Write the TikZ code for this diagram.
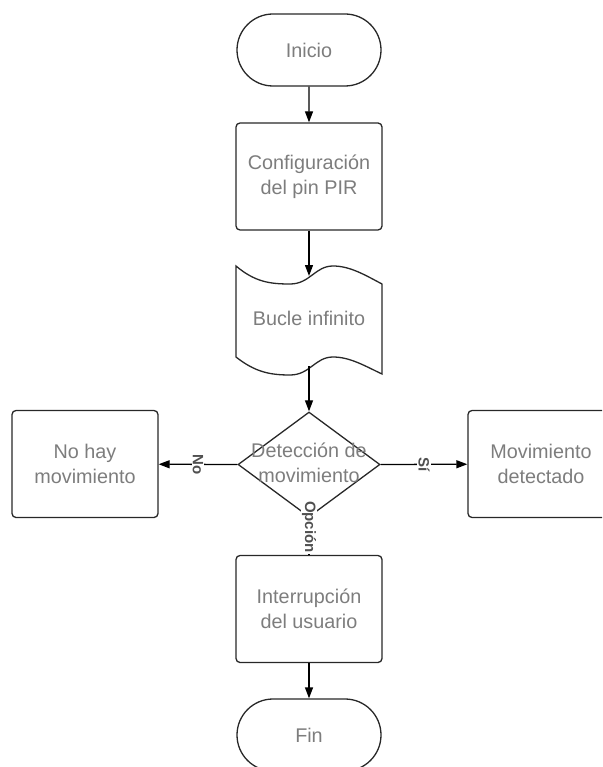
\documentclass[tikz,border=0pt]{standalone}
\usepackage{fontspec}
\setmainfont{Liberation Sans}
\usetikzlibrary{shapes.geometric,shapes.misc,arrows.meta}
\definecolor{txtgray}{RGB}{125,125,125}
\definecolor{labgray}{RGB}{80,80,80}
\definecolor{edgecol}{RGB}{40,40,40}
\begin{document}
\begin{tikzpicture}[x=1pt,y=-1pt,
  mainfont/.style={font=\fontsize{19.8}{25}\selectfont},
  base/.style={draw=edgecol, line width=1.3pt, text=txtgray, align=center, mainfont, inner sep=0pt},
  terminal/.style={base, rounded rectangle, minimum width=144pt, minimum height=72pt},
  procbox/.style={base, rectangle, rounded corners=4pt, minimum width=146pt, minimum height=107pt},
  txt/.style={text=txtgray, align=center, mainfont, inner sep=0pt},
  flow/.style={draw=black, line width=1.3pt, -{Triangle[length=11pt,width=8pt]}},
  link/.style={draw=black, line width=1.3pt},
  lab/.style={text=labgray, font=\fontsize{15}{15}\selectfont\bfseries, fill=white, inner sep=1pt, rotate=-90}
]
\useasboundingbox (0,0) rectangle (602,767);
\clip (0,0) rectangle (602,767);

% start and setup
\node[terminal] (inicio) at (309,50) {Inicio};
\node[procbox] (config) at (309,176.5) {Configuración\\del pin PIR};

% wavy loop symbol
\draw[draw=edgecol, line width=1.3pt]
  (236,266) .. controls (255,282) and (270,284) .. (290,284)
            .. controls (310,284) and (315,266) .. (333,266)
            .. controls (350,266) and (365,275) .. (382,284)
  -- (382,374)
            .. controls (365,366) and (350,357) .. (333,357)
            .. controls (315,357) and (310,375) .. (290,375)
            .. controls (270,375) and (255,372) .. (236,357)
  -- cycle;
\node[txt] (bucle) at (309,318) {Bucle infinito};
\coordinate (bucletop) at (309,276);
\coordinate (buclebot) at (309,366);

% decision
\node[diamond, draw=edgecol, line width=1.3pt, minimum width=142pt,
      minimum height=105pt, inner sep=0pt] (deteccion) at (309,464.5) {};
\node[txt] (detecciontxt) at (309,462.5) {Detección de\\movimiento};

% outcomes
\node[procbox] (nohay) at (85,464) {No hay\\movimiento};
\node[procbox] (detectado) at (541,464) {Movimiento\\detectado};
\node[procbox] (interrupcion) at (309,609) {Interrupción\\del usuario};
\node[terminal] (fin) at (309,735) {Fin};

% connectors
\draw[flow] (inicio) -- (config);
\draw[flow] (config) -- (bucletop);
\draw[flow] (buclebot) -- (deteccion);
\draw[flow] (deteccion.west) -- node[lab] {No} (nohay);
\draw[flow] (deteccion.east) -- node[lab] {Sí} (detectado);
\draw[link] (deteccion.south) -- node[lab, pos=0.25] {Opción} (interrupcion);
\draw[flow] (interrupcion) -- (fin);
\end{tikzpicture}
\end{document}
